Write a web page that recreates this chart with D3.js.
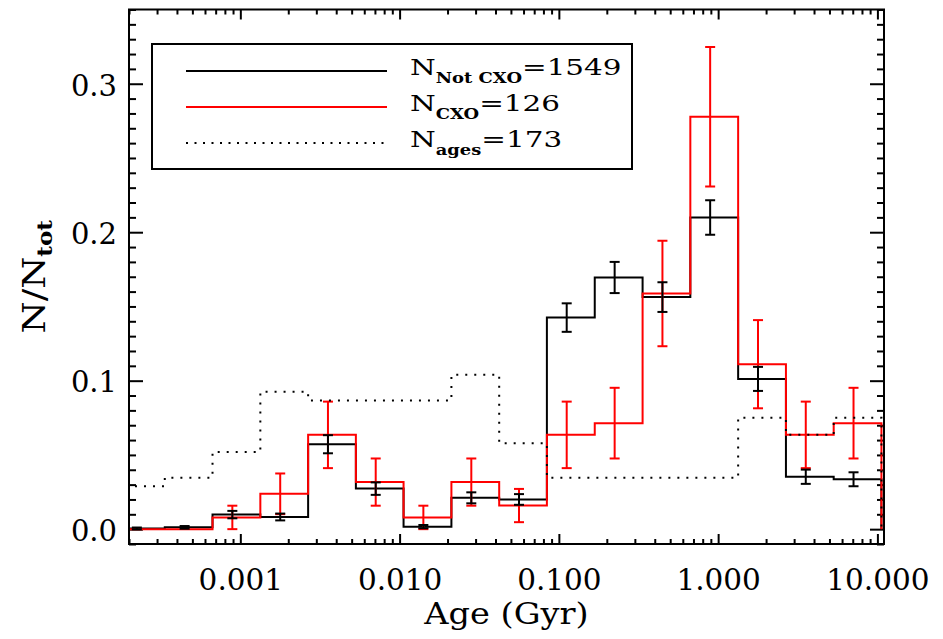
<!DOCTYPE html>
<html><head><meta charset="utf-8">
<script src="https://cdn.jsdelivr.net/npm/d3@7"></script>
<style>body{margin:0;background:#fff}</style>
</head><body><svg id="c" width="943" height="639"></svg>
<script>
// ---- data ----
const ageCenters = [0.000224, 0.000447, 0.000891, 0.00178, 0.00355, 0.00708, 0.0141, 0.0282,
                    0.0562, 0.112, 0.224, 0.447, 0.891, 1.78, 3.55, 7.08];
const fracNotCxo = [0.0005, 0.0012, 0.0098, 0.0082, 0.0572, 0.0273, 0.0017, 0.0211,
                    0.0200, 0.1425, 0.1695, 0.1563, 0.2099, 0.1012, 0.0353, 0.0336];
const errNotCxo  = [0.0006, 0.0009, 0.0025, 0.0023, 0.0061, 0.0042, 0.0011, 0.0037,
                    0.0036, 0.0096, 0.0105, 0.0100, 0.0116, 0.0081, 0.0048, 0.0047];
const fracCxo    = [0, 0, 0.0079, 0.0238, 0.0635, 0.0317, 0.0079, 0.0317,
                    0.0159, 0.0635, 0.0714, 0.1587, 0.2778, 0.1111, 0.0635, 0.0714];
const errCxo     = [0, 0, 0.0079, 0.0137, 0.0224, 0.0159, 0.0079, 0.0159,
                    0.0112, 0.0224, 0.0238, 0.0355, 0.0470, 0.0297, 0.0224, 0.0238];
const fracAges   = [0.0289, 0.0347, 0.0520, 0.0925, 0.0867, 0.0867, 0.0867, 0.1040,
                    0.0578, 0.0347, 0.0347, 0.0347, 0.0347, 0.0751, 0.0636, 0.0751];
const xMajorTicks = [0.001, 0.01, 0.1, 1, 10];
const xTickLabels = ["0.001", "0.010", "0.100", "1.000", "10.000"];
const yMajorTicks = [0, 0.1, 0.2, 0.3];
const yTickLabels = ["0.0", "0.1", "0.2", "0.3"];
const legendMain = ["N", "N", "N"];
const legendSub  = ["Not CXO", "CXO", "ages"];
const legendRest = ["=1549", "=126", "=173"];
const xTitle = "Age (Gyr)";

// ---- layout ----
const m = {l:129, r:884, t:9.5, b:544};
const svg = d3.select("#c");
const FONT = "DejaVu Serif";
const x = d3.scaleLog().domain([0.0002, 11]).range([m.l, m.r]);
const y = d3.scaleLinear().domain([-0.01, 0.35]).range([m.b, m.t]);

svg.append("rect").attr("width",943).attr("height",639).attr("fill","#fff");

// minor ticks
const xMinor = [];
[1e-4,1e-3,1e-2,1e-1,1].forEach(d => { for (let k=2;k<=9;k++){ const v=k*d; if (v>=0.0002 && v<=11) xMinor.push(v);} });
const yMinor = d3.range(-1, 36).map(i => i/100).filter(v => yMajorTicks.indexOf(v) < 0 && Math.abs(v - Math.round(v*10)/10) > 1e-9);

function styleAxis(g){
  g.select(".domain").remove();
  g.selectAll(".tick line").attr("stroke","#000").attr("stroke-width",2);
  g.selectAll("text").attr("font-family",FONT).attr("fill","#000");
}
// bottom
svg.append("g").attr("transform",`translate(0,${m.b})`)
  .call(d3.axisBottom(x).tickValues(xMinor).tickSize(-5).tickFormat("")).call(styleAxis);
const gxb = svg.append("g").attr("transform",`translate(0,${m.b})`)
  .call(d3.axisBottom(x).tickValues(xMajorTicks).tickSize(-10).tickPadding(25)
        .tickFormat((d,i)=>xTickLabels[i])).call(styleAxis);
gxb.selectAll("text").attr("font-size",29.5);
// top
svg.append("g").attr("transform",`translate(0,${m.t})`)
  .call(d3.axisTop(x).tickValues(xMinor).tickSize(-5).tickFormat("")).call(styleAxis);
svg.append("g").attr("transform",`translate(0,${m.t})`)
  .call(d3.axisTop(x).tickValues(xMajorTicks).tickSize(-10).tickFormat("")).call(styleAxis);
// left
svg.append("g").attr("transform",`translate(${m.l},0)`)
  .call(d3.axisLeft(y).tickValues(yMinor).tickSize(-7).tickFormat("")).call(styleAxis);
const gyl = svg.append("g").attr("transform",`translate(${m.l},0)`)
  .call(d3.axisLeft(y).tickValues(yMajorTicks).tickSize(-14).tickPadding(12)
        .tickFormat((d,i)=>yTickLabels[i])).call(styleAxis);
gyl.selectAll("text").attr("font-size",29).attr("dy","0.39em");
// right
svg.append("g").attr("transform",`translate(${m.r},0)`)
  .call(d3.axisRight(y).tickValues(yMinor).tickSize(-7).tickFormat("")).call(styleAxis);
svg.append("g").attr("transform",`translate(${m.r},0)`)
  .call(d3.axisRight(y).tickValues(yMajorTicks).tickSize(-14).tickFormat("")).call(styleAxis);

// ---- histograms ----
svg.append("clipPath").attr("id","clip").append("rect")
  .attr("x",m.l).attr("y",m.t).attr("width",m.r-m.l).attr("height",m.b-m.t);
const n = ageCenters.length;
const ext = [ageCenters[0]**2/ageCenters[1], ...ageCenters, ageCenters[n-1]**2/ageCenters[n-2]];
const edges = d3.range(n+1).map(i => (ext[i]+ext[i+1])/2);

function stepPath(vals){
  let p = `M${x(edges[0])},${y(vals[0])}`;
  vals.forEach((v,i) => { p += `V${y(v)}H${x(edges[i+1])}`; });
  p += `V${y(0)}`;
  return p;
}
const plot = svg.append("g").attr("clip-path","url(#clip)");
function hist(vals, color, dash){
  plot.append("path").attr("d", stepPath(vals)).attr("fill","none")
    .attr("stroke",color).attr("stroke-width",2)
    .attr("stroke-dasharray", dash || null).attr("stroke-linejoin","miter");
}
function errs(vals, errsArr, color){
  const g = plot.append("g").attr("stroke",color).attr("stroke-width",2);
  vals.forEach((v,i) => {
    if (errsArr[i] <= 0) return;
    const cx = x(ageCenters[i]), y1 = y(v - errsArr[i]), y2 = y(v + errsArr[i]);
    g.append("line").attr("x1",cx).attr("x2",cx).attr("y1",y1).attr("y2",y2);
    g.append("line").attr("x1",cx-5).attr("x2",cx+5).attr("y1",y1).attr("y2",y1);
    g.append("line").attr("x1",cx-5).attr("x2",cx+5).attr("y1",y2).attr("y2",y2);
  });
}
hist(fracNotCxo, "#000");
hist(fracCxo, "#ff0000");
errs(fracCxo, errCxo, "#ff0000");
errs(fracNotCxo, errNotCxo, "#000");
hist(fracAges, "#000", "2,7");

// frame
svg.append("rect").attr("x",m.l).attr("y",m.t).attr("width",m.r-m.l).attr("height",m.b-m.t)
  .attr("fill","none").attr("stroke","#000").attr("stroke-width",2);

// ---- legend ----
const lg = svg.append("g");
lg.append("rect").attr("x",152).attr("y",44).attr("width",480).attr("height",125)
  .attr("fill","#fff").attr("stroke","#000").attr("stroke-width",2);
const legColors = ["#000","#ff0000","#000"];
const legDash = [null, null, "2,6.5"];
const legY = [71, 107, 143];
legendMain.forEach((t,i) => {
  lg.append("line").attr("x1",186).attr("x2",387).attr("y1",legY[i]).attr("y2",legY[i])
    .attr("stroke",legColors[i]).attr("stroke-width",2).attr("stroke-dasharray",legDash[i]);
  const tx = lg.append("g").attr("transform",`translate(410,${legY[i]+4}) scale(1.28,1)`)
    .append("text").attr("font-family",FONT).attr("font-size",23).attr("fill","#000");
  tx.append("tspan").text(t);
  tx.append("tspan").attr("font-size",14).attr("font-weight","bold").attr("dy",8).text(legendSub[i]);
  tx.append("tspan").attr("dy",-8).text(legendRest[i]);
});

// ---- axis titles ----
svg.append("g").attr("transform",`translate(${(m.l+m.r)/2},624) scale(1.12,1)`)
  .append("text").attr("text-anchor","middle").attr("font-family",FONT).attr("font-size",30)
  .attr("fill","#000").text(xTitle);
const yt = svg.append("g").attr("transform",`translate(45,${(m.t+m.b)/2}) rotate(-90) scale(1.15,1)`)
  .append("text").attr("text-anchor","middle").attr("font-family",FONT).attr("font-size",32).attr("fill","#000");
yt.append("tspan").text("N/N");
yt.append("tspan").attr("font-size",20).attr("font-weight","bold").attr("dy",7).text("tot");
</script></body></html>
